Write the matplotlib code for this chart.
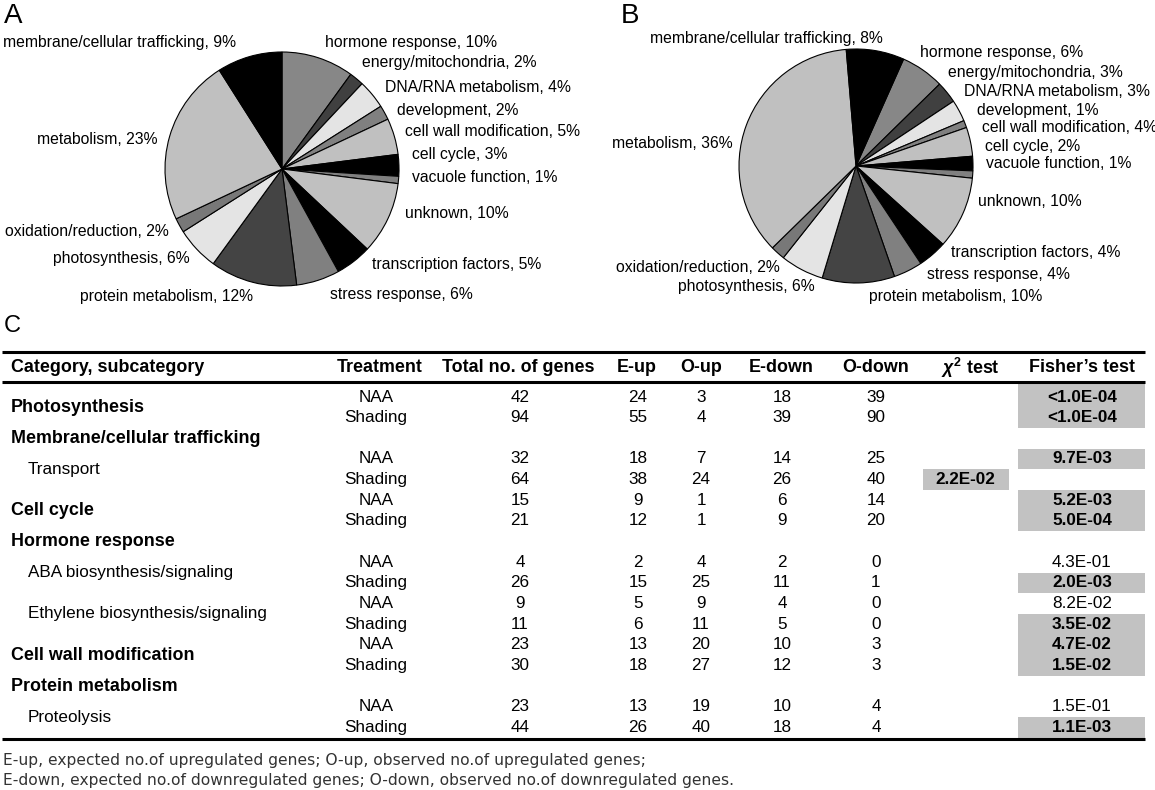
import matplotlib
matplotlib.use("Agg")
import matplotlib.pyplot as plt
from matplotlib.patches import Rectangle

plt.rcParams['font.family'] = ['Liberation Sans', 'DejaVu Sans']
plt.rcParams['mathtext.fontset'] = 'custom'
plt.rcParams['mathtext.rm'] = 'Liberation Sans:bold'
plt.rcParams['mathtext.it'] = 'Liberation Sans:italic:bold'
plt.rcParams['mathtext.bf'] = 'Liberation Sans:bold'

W, H = 1155, 790

# --- pie data (clockwise order) ---
pie_labels = ["hormone response", "energy/mitochondria", "DNA/RNA metabolism", "development",
              "cell wall modification", "cell cycle", "vacuole function", "unknown",
              "transcription factors", "stress response", "protein metabolism",
              "photosynthesis", "oxidation/reduction", "metabolism",
              "membrane/cellular trafficking"]
pct_a = [10, 2, 4, 2, 5, 3, 1, 10, 5, 6, 12, 6, 2, 23, 9]
pct_b = [6, 3, 3, 1, 4, 2, 1, 10, 4, 4, 10, 6, 2, 36, 8]

# --- table data ---
groups = ["Photosynthesis", "Transport", "Cell cycle", "ABA biosynthesis/signaling",
          "Ethylene biosynthesis/signaling", "Cell wall modification", "Proteolysis"]
group_parent = [None, "Membrane/cellular trafficking", None, "Hormone response",
                "Hormone response", None, "Protein metabolism"]
treatments = ["NAA", "Shading"]
total_genes = [42, 94, 32, 64, 15, 21, 4, 26, 9, 11, 23, 30, 23, 44]
e_up = [24, 55, 18, 38, 9, 12, 2, 15, 5, 6, 13, 18, 13, 26]
o_up = [3, 4, 7, 24, 1, 1, 4, 25, 9, 11, 20, 27, 19, 40]
e_down = [18, 39, 14, 26, 6, 9, 2, 11, 4, 5, 10, 12, 10, 18]
o_down = [39, 90, 25, 40, 14, 20, 0, 1, 0, 0, 3, 3, 4, 4]
chi_test = ["", "", "", "2.2E-02", "", "", "", "", "", "", "", "", "", ""]
fisher_test = ["<1.0E-04", "<1.0E-04", "9.7E-03", "", "5.2E-03", "5.0E-04", "4.3E-01",
               "2.0E-03", "8.2E-02", "3.5E-02", "4.7E-02", "1.5E-02", "1.5E-01", "1.1E-03"]
headers = ["Category, subcategory", "Treatment", "Total no. of genes", "E-up", "O-up",
           "E-down", "O-down", r"$\chi^{2}$ test", "Fisher\u2019s test"]
footnotes = ["E-up, expected no.of upregulated genes; O-up, observed no.of upregulated genes;",
             "E-down, expected no.of downregulated genes; O-down, observed no.of downregulated genes."]

# styles / layout
wedge_grays = ["#878787", "#404040", "#e4e4e4", "#808080", "#c0c0c0", "#000000", "#808080",
               "#c0c0c0", "#000000", "#808080", "#444444", "#e4e4e4", "#787878", "#c0c0c0", "#000000"]
lab_pos_a = [(325, 42), (362, 63), (385, 87), (397, 110), (405, 131), (412, 155), (412, 178),
             (405, 213), (372, 264), (330, 295), (80, 297), (53, 258), (5, 231), (37, 139), (3, 43)]
lab_pos_b = [(920, 53), (948, 73), (964, 92), (977, 110), (982, 128), (985, 146), (986, 164),
             (978, 202), (951, 253), (927, 275), (869, 296), (678, 287), (616, 267), (612, 144), (650, 39)]
col_x = [376, 520, 638, 701, 782, 876, 965, 1082]
head_x = [11, 380, 518, 637, 701, 781, 876, 970, 1082]
box_gray = "#c2c2c2"
y0, dy = 397, 20.65
head_line = 382

fig = plt.figure(figsize=(W / 100, H / 100), dpi=100)
ax = fig.add_axes([0, 0, 1, 1])
ax.set_xlim(0, W)
ax.set_ylim(H, 0)
ax.axis("off")


def draw_pie(vals, cx, cy, r, start, lab_pos):
    pad = 3
    pa = fig.add_axes([(cx - r - pad) / W, 1 - (cy + r + pad) / H, 2 * (r + pad) / W, 2 * (r + pad) / H])
    pa.pie(vals, colors=wedge_grays, startangle=start, counterclock=False, radius=1,
           wedgeprops=dict(edgecolor="black", linewidth=0.8))
    lim = (r + pad) / r
    pa.set_xlim(-lim, lim)
    pa.set_ylim(-lim, lim)
    pa.set_aspect("equal")
    pa.axis("off")
    for name, v, (x, y) in zip(pie_labels, vals, lab_pos):
        ax.text(x, y, f"{name}, {v}%", fontsize=11.3, ha="left", va="center")


draw_pie(pct_a, 282, 169, 117, 90, lab_pos_a)
draw_pie(pct_b, 856, 166, 117, 66, lab_pos_b)

ax.text(4, 16, "A", fontsize=20, ha="left", va="center")
ax.text(621, 16, "B", fontsize=20, ha="left", va="center")
ax.text(4, 326, "C", fontsize=17, ha="left", va="center")

# table rules
for yl in (352, head_line, 739):
    ax.plot([2, 1145], [yl, yl], color="black", lw=2.2, solid_capstyle="butt")

for i, h in enumerate(headers):
    ax.text(head_x[i], 368, h, fontsize=12.9, fontweight="bold",
            ha="left" if i == 0 else "center", va="center")


def pval(s):
    return float(s.replace("<", "")) if s else 1.0


slot = 0
prev_parent = None
for g, name in enumerate(groups):
    parent = group_parent[g]
    if parent and parent != prev_parent:
        ax.text(11, y0 + dy * slot, parent, fontsize=12.9, fontweight="bold", ha="left", va="center")
        slot += 1
    prev_parent = parent
    ymid = y0 + dy * (slot + 0.5)
    if parent:
        ax.text(28, ymid, name, fontsize=12.3, ha="left", va="center")
    else:
        ax.text(11, ymid, name, fontsize=12.9, fontweight="bold", ha="left", va="center")
    for k in range(2):
        i = 2 * g + k
        y = y0 + dy * (slot + k)
        vals = [treatments[k], total_genes[i], e_up[i], o_up[i], e_down[i], o_down[i]]
        for x, v in zip(col_x[:6], vals):
            ax.text(x, y, str(v), fontsize=12.3, ha="center", va="center")
        for x, s, x0, x1 in ((col_x[6], chi_test[i], 923, 1009), (col_x[7], fisher_test[i], 1018, 1145)):
            if not s:
                continue
            sig = pval(s) < 0.05
            if sig:
                top = y - dy / 2 if slot + k > 0 else head_line + 1
                ax.add_patch(Rectangle((x0, top), x1 - x0, y + dy / 2 - top, facecolor=box_gray,
                                       edgecolor="none", antialiased=False, zorder=0))
            ax.text(x, y, s, fontsize=12.3, ha="center", va="center",
                    fontweight="bold" if sig else "normal")
    slot += 2

for j, line in enumerate(footnotes):
    ax.text(3, 760 + 20 * j, line, fontsize=11.2, family="DejaVu Sans", color="#333333",
            ha="left", va="center")

fig.savefig("out.png", dpi=100)
